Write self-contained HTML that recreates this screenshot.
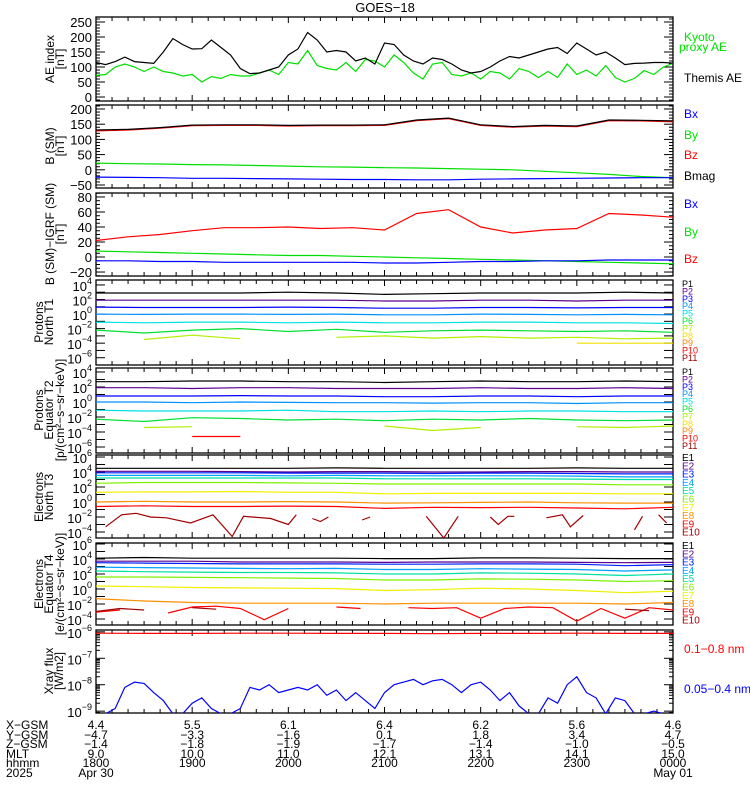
<!DOCTYPE html>
<html><head><meta charset="utf-8"><title>GOES-18</title>
<style>
html,body{margin:0;padding:0;background:#fff;}
svg{display:block;font-family:"Liberation Sans",sans-serif;}
</style></head>
<body>
<svg id="chart" xmlns="http://www.w3.org/2000/svg" width="750" height="800" viewBox="0 0 750 800">
<rect x="0" y="0" width="750" height="800" fill="#fff"/>
<text x="385" y="12" font-size="13" text-anchor="middle">GOES−18</text>
</svg>
<script>
// ===== DATA =====
const hourLabels = ["1800","1900","2000","2100","2200","2300","0000"];
const xgsm = ["4.4","5.5","6.1","6.4","6.2","5.6","4.6"];
const ygsm = ["−4.7","−3.3","−1.6","0.1","1.8","3.4","4.7"];
const zgsm = ["−1.4","−1.8","−1.9","−1.7","−1.4","−1.0","−0.5"];
const mlt = ["9.0","10.0","11.0","12.1","13.1","14.1","15.0"];
// AE index, every 6 minutes from 1800
const themisAE = [115,108,118,133,118,115,112,150,195,175,160,161,190,165,140,95,78,80,90,100,140,160,215,190,150,155,150,120,130,110,180,175,140,120,110,130,125,110,90,80,85,100,120,135,130,140,150,160,165,145,180,160,140,150,130,108,112,113,115,115,113];
const kyotoAE = [72,75,100,110,100,85,100,85,80,70,75,50,68,62,75,70,70,80,90,75,115,110,155,105,95,90,115,85,125,120,100,140,115,80,60,110,115,75,70,80,60,85,80,60,95,85,65,85,65,110,75,90,70,105,65,50,62,88,75,100,112];
// B (SM), every 20 minutes
const bmag = [131,133,139,147,148,148,146,147,147,148,164,170,148,142,146,144,164,163,161];
const bz = [128,131,137,145,146,146,144,145,145,146,162,168,146,140,144,142,162,161,158];
const by = [22,20,19,17,16,14,12,10,9,7,6,4,2,0,-5,-10,-15,-22,-26];
const bx = [-24,-25,-26,-28,-28,-29,-30,-31,-32,-32,-33,-33,-31,-30,-29,-28,-27,-26,-26];
// B - IGRF, every 20 minutes
const dbz = [22,27,30,35,39,39,40,38,39,36,58,63,40,32,36,38,58,56,53];
const dby = [8,7,6,5,4,3,2,2,1,0,-1,-2,-3,-4,-5,-6,-7,-8,-9];
const dbx = [-5,-5,-6,-6,-7,-7,-7,-7,-7,-8,-8,-7,-6,-6,-5,-5,-4,-4,-4];
// Protons North T1, log10 flux every 30 min
const pN1 = [2.9,2.9,2.9,2.9,3.0,2.9,2.7,2.8,2.9,2.9,2.9,3.0,2.9];
const pN2 = [1.9,1.9,1.9,1.9,1.9,1.9,1.8,1.8,1.9,1.9,1.8,1.9,1.9];
const pN3 = [0.95,0.9,0.9,0.9,0.95,0.9,0.8,0.8,0.9,0.9,0.85,0.9,0.9];
const pN4 = [0.0,-0.05,0.0,0.0,-0.05,0.0,-0.1,-0.1,0.0,-0.05,-0.1,-0.05,-0.1];
const pN5 = [-1.1,-1.2,-1.1,-1.1,-1.2,-1.1,-1.2,-1.2,-1.1,-1.1,-1.2,-1.2,-1.3];
const pN6 = [-2.2,-2.6,-2.2,-2.0,-2.4,-2.1,-2.5,-2.3,-2.2,-2.3,-2.4,-2.3,-2.5];
const pN7 = [null,-3.5,-2.9,-3.4,null,-3.2,-3.0,-3.3,-3.1,-3.3,-3.2,-3.4,-3.3];
const pN8 = [null,null,-4.0,null,null,null,null,-4.1,null,null,-4.0,-4.0,-4.0];
// Protons Equator T2
const pE1 = [2.7,2.7,2.8,2.8,2.7,2.7,2.6,2.7,2.8,2.7,2.7,2.8,2.7];
const pE2 = [1.9,1.9,1.8,1.9,1.9,1.8,1.8,1.8,1.9,1.8,1.8,1.9,1.8];
const pE3 = [0.8,0.8,0.8,0.85,0.8,0.8,0.7,0.7,0.8,0.8,0.7,0.8,0.8];
const pE4 = [0.0,0.0,-0.1,0.0,-0.05,-0.1,-0.1,-0.15,-0.1,-0.1,-0.2,-0.1,-0.1];
const pE5 = [-1.1,-1.2,-1.2,-1.2,-1.1,-1.3,-1.3,-1.2,-1.3,-1.2,-1.2,-1.3,-1.3];
const pE6 = [-2.3,-2.6,-2.1,-2.2,-2.4,-2.3,-2.5,-2.3,-2.4,-2.2,-2.4,-2.5,-2.4];
const pE7 = [null,-3.4,-3.3,null,-3.5,null,-3.2,-3.8,-3.4,null,-3.3,-3.4,-3.2];
const pE8 = [null,null,null,null,-4.3,null,null,null,null,-4.2,null,null,null];
const pE10 = [null,null,-4.6,-4.6,null,null,null,null,null,null,null,null,null];
// Electrons North T3
const eN1 = [4.5,4.5,4.5,4.5,4.5,4.55,4.5,4.5,4.5,4.5,4.55,4.5,4.5];
const eN2 = [4.1,4.1,4.1,4.05,4.0,4.05,4.05,4.0,4.0,4.05,4.05,4.0,4.0];
const eN3 = [3.9,3.9,3.9,3.9,3.85,3.85,3.85,3.8,3.85,3.85,3.8,3.75,3.75];
const eN4 = [3.55,3.55,3.55,3.55,3.5,3.55,3.5,3.5,3.5,3.5,3.45,3.35,3.35];
const eN5 = [3.2,3.2,3.2,3.2,3.2,3.2,3.1,3.1,3.1,3.1,3.05,3.0,3.0];
const eN6 = [2.5,2.6,2.6,2.6,2.55,2.5,2.4,2.4,2.4,2.4,2.4,2.3,2.3];
const eN7 = [1.3,1.35,1.35,1.4,1.3,1.3,1.1,1.15,1.15,1.15,1.15,1.1,1.1];
const eN8 = [0.0,0.1,0.0,0.0,0.05,0.0,-0.15,-0.1,-0.05,0.0,-0.1,-0.15,-0.15];
const eN9 = [-0.6,-0.5,-0.6,-0.6,-0.55,-0.6,-0.85,-0.7,-0.75,-0.7,-0.8,-0.9,-0.7];
const eN10Times = [6,16,25,34,44,59,73,85,92,109,120,125,null,135,140,145,null,166,171,null,206,217,226,null,246,251,257,261,null,281,291,296,304,null,336,341,null,351,356];
const eN10 = [-3.3,-1.7,-1.5,-2.0,-2.1,-2.8,-1.7,-4.6,-1.9,-2.2,-3.0,-1.7,null,-2.2,-2.6,-2.0,null,-2.4,-2.0,null,-1.9,-4.8,-1.9,null,-2.0,-3.0,-1.9,-1.9,null,-2.1,-1.7,-3.3,-1.8,null,-3.7,-1.9,null,-1.7,-2.8];
// Electrons Equator T4
const eE1 = [4.1,4.2,4.1,4.1,4.1,4.1,4.05,4.05,4.15,4.15,4.1,4.05,4.05];
const eE2 = [3.7,3.7,3.7,3.6,3.6,3.6,3.55,3.6,3.6,3.6,3.55,3.5,3.55];
const eE3 = [3.5,3.45,3.4,3.35,3.35,3.35,3.3,3.3,3.35,3.35,3.3,3.1,3.25];
const eE4 = [2.9,2.85,2.8,2.75,2.7,2.75,2.6,2.6,2.7,2.65,2.6,2.4,2.55];
const eE5 = [2.4,2.3,2.25,2.2,2.2,2.15,2.0,2.0,2.15,2.1,2.0,1.8,2.0];
const eE6 = [1.6,1.6,1.55,1.5,1.45,1.4,1.2,1.2,1.35,1.3,1.2,1.0,1.1];
const eE7 = [0.4,0.3,0.2,0.15,0.1,0.05,-0.2,-0.1,0.1,0.0,-0.2,-0.5,-0.3];
const eE8 = [-1.3,-1.6,-1.8,-1.9,-1.9,-1.9,-2.0,-1.9,-1.9,-1.9,-1.9,-2.0,-1.8];
const eE9 = [-3.1,-2.8,null,-3.2,-2.4,-2.3,-2.6,-4.1,-2.6,null,-2.4,-2.6,null,-2.5,-2.6,-2.5,-3.9,-2.6,-2.4,-2.5,-4.3,-2.6,-3.9,-2.5,-2.8];
const eE10 = [-3.0,-2.6,-2.8,null,-2.5,-2.7,null,null,null,null,null,null,null,null,-2.6,null,null,-2.5,null,null,null,null,-2.7,-2.9,null];
// X-ray flux, log10 W/m2
const xrLong = [-6.05,-6.06,-6.06,-6.05,-6.05,-6.06,-6.06,-6.07,-6.06,-6.06,-6.05,-6.06,-6.06];
const xrShort = [-9.1,-9.1,-8.9,-8.1,-7.9,-7.95,-8.3,-8.6,-9.1,-9.1,-8.7,-8.5,-8.9,-9.1,-9.1,-8.9,-8.1,-8.2,-8.0,-8.3,-8.2,-8.1,-8.2,-8.0,-8.4,-8.2,-8.6,-8.3,-8.6,-8.9,-8.3,-8.0,-7.9,-7.8,-8.0,-7.85,-7.8,-8.0,-8.3,-8.0,-7.9,-8.2,-8.6,-8.3,-8.8,-9.1,-9.1,-8.5,-8.7,-8.0,-7.7,-8.3,-8.5,-9.1,-8.5,-8.6,-9.1,-9.1,-9.0,-9.1,-9.1];

// ===== LAYOUT =====
const NS = "http://www.w3.org/2000/svg";
const svg = document.getElementById('chart');
const X0 = 96, X1 = 673;
function xScale(m){ return X0 + (m/360)*(X1-X0); }
const panels = [
 {top:17, bot:101, min:-13.3, max:266.7, log:false, major:[0,50,100,150,200,250], minorStep:10, name:'ae-panel'},
 {top:105, bot:188, min:-59.9, max:213.2, log:false, major:[-50,0,50,100,150,200], minorStep:10, name:'bsm-panel'},
 {top:193, bot:276, min:-25.3, max:85.3, log:false, major:[-20,0,20,40,60,80], minorStep:5, name:'bigrf-panel'},
 {top:280, bot:365, min:-7.0, max:4.68, log:true, labels:[4,2,0,-2,-4,-6], name:'protons-north-panel'},
 {top:368, bot:453, min:-6.8, max:4.53, log:true, labels:[4,2,0,-2,-4,-6], name:'protons-equator-panel'},
 {top:455, bot:538, min:-4.8, max:6.27, log:true, labels:[6,4,2,0,-2,-4], name:'electrons-north-panel'},
 {top:543, bot:625, min:-4.8, max:6.13, log:true, labels:[6,4,2,0,-2,-4], name:'electrons-equator-panel'},
 {top:630, bot:713, min:-9.07, max:-5.93, log:true, labels:[-6,-7,-8,-9], minorLog:true, name:'xray-panel'}
];
function yScale(p,v){ return p.top + (p.max - v)/(p.max - p.min)*(p.bot - p.top); }
function mk(tag, attrs){ const e=document.createElementNS(NS,tag); for(const k in attrs) e.setAttribute(k, attrs[k]); return e; }
function line(x1,y1,x2,y2,col,w){ return mk('line',{x1:x1,y1:y1,x2:x2,y2:y2,stroke:col||'#000','stroke-width':w||1}); }

panels.forEach((p,pi)=>{
  const g = mk('g',{});
  
  
  svg.appendChild(g);
  const cp = mk('clipPath',{id:'clip'+pi});
  cp.appendChild(mk('rect',{x:X0,y:p.top,width:X1-X0,height:p.bot-p.top}));
  svg.appendChild(cp);
  p.g = g;
  const fr = mk('rect',{x:X0,y:p.top,width:X1-X0,height:p.bot-p.top,fill:'none',stroke:'#000','stroke-width':1.3});
  
  
  g.appendChild(fr);
  for(let m=10;m<360;m+=10){
    const x=xScale(m); const len=(m%60===0)?6:4;
    g.appendChild(line(x,p.bot,x,p.bot-len));
    g.appendChild(line(x,p.top,x,p.top+len));
  }
  const ticks=[];
  if(!p.log){
    for(let v=Math.ceil(p.min/p.minorStep)*p.minorStep; v<=p.max; v+=p.minorStep){
      ticks.push([v, p.major.indexOf(v)>=0]);
    }
  } else if(p.minorLog){
    for(let d=-10; d<=-5; d++){
      for(let k=1;k<10;k++){ const v=d+Math.log10(k); if(v>=p.min&&v<=p.max) ticks.push([v,k===1]); }
    }
  } else {
    for(let d=Math.ceil(p.min); d<=Math.floor(p.max); d++) ticks.push([d,true]);
  }
  ticks.forEach(([v,maj])=>{
    const y=yScale(p,v); const len=maj?9:4;
    g.appendChild(line(X0,y,X0+len,y));
    g.appendChild(line(X1,y,X1-len,y));
  });
  if(!p.log){
    p.major.forEach(v=>{
      const t = mk('text',{x:X0-4,y:yScale(p,v)+5,'font-size':13,'text-anchor':'end'});
      t.textContent = (v<0?'−':'')+Math.abs(v);
      
      
      g.appendChild(t);
    });
  } else {
    p.labels.forEach(d=>{
      const y=yScale(p,d);
      const t = mk('text',{x:X0-4,y:y+6,'font-size':13,'text-anchor':'end'});
      const base = document.createElementNS(NS,'tspan'); base.textContent='10';
      const sup = mk('tspan',{dy:-7,'font-size':9}); sup.textContent=(d<0?'−':'')+Math.abs(d);
      t.appendChild(base); t.appendChild(sup);
      
      
      g.appendChild(t);
    });
  }
});

function series(pi, vals, col, name, times){
  const p = panels[pi];
  const n = vals.length;
  let d=''; let pen=false;
  for(let i=0;i<n;i++){
    const v=vals[i];
    const m = times ? times[i] : i*360/(n-1);
    if(v===null || m===null){ pen=false; continue; }
    const x=xScale(m), y=yScale(p,v);
    d += (pen?'L':'M')+x.toFixed(1)+' '+y.toFixed(1)+' ';
    pen=true;
  }
  const path = mk('path',{d:d,fill:'none',stroke:col,'stroke-width':1.2,'clip-path':'url(#clip'+pi+')'});
  
  
  p.g.appendChild(path);
}

const C = {P1:'#000',P2:'#5a0090',P3:'#0000ff',P4:'#0090ff',P5:'#00e0e0',P6:'#00e030',P7:'#b0f000',P8:'#f0e000',P9:'#ff8000',P10:'#ff0000',P11:'#a00000'};
const EC = {E1:'#000',E2:'#5a0090',E3:'#0020ff',E4:'#00a0ff',E5:'#00e0a0',E6:'#80f000',E7:'#f0f000',E8:'#ff9000',E9:'#ff0000',E10:'#a00000'};

series(0, kyotoAE, '#00e000', 'kyoto-ae-line');
series(0, themisAE, '#000', 'themis-ae-line');
series(1, by, '#00e000', 'by-line');
series(1, bx, '#0000ff', 'bx-line');
series(1, bz, '#ff0000', 'bz-line');
series(1, bmag, '#000', 'bmag-line');
series(2, dby, '#00e000', 'dby-line');
series(2, dbx, '#0000ff', 'dbx-line');
series(2, dbz, '#ff0000', 'dbz-line');
[[pN1,'P1'],[pN2,'P2'],[pN3,'P3'],[pN4,'P4'],[pN5,'P5'],[pN6,'P6'],[pN7,'P7'],[pN8,'P8']].forEach(([a,k])=>series(3,a,C[k],'proton-north-'+k.toLowerCase()));
[[pE1,'P1'],[pE2,'P2'],[pE3,'P3'],[pE4,'P4'],[pE5,'P5'],[pE6,'P6'],[pE7,'P7'],[pE8,'P8'],[pE10,'P10']].forEach(([a,k])=>series(4,a,C[k],'proton-equator-'+k.toLowerCase()));
[[eN1,'E1'],[eN2,'E2'],[eN3,'E3'],[eN4,'E4'],[eN5,'E5'],[eN6,'E6'],[eN7,'E7'],[eN8,'E8'],[eN9,'E9']].forEach(([a,k])=>series(5,a,EC[k],'electron-north-'+k.toLowerCase()));
series(5, eN10, EC.E10, 'electron-north-e10', eN10Times);
[[eE1,'E1'],[eE2,'E2'],[eE3,'E3'],[eE4,'E4'],[eE5,'E5'],[eE6,'E6'],[eE7,'E7'],[eE8,'E8'],[eE9,'E9'],[eE10,'E10']].forEach(([a,k])=>series(6,a,EC[k],'electron-equator-'+k.toLowerCase()));
series(7, xrLong, '#ff0000', 'xray-long-line');
series(7, xrShort, '#0000ff', 'xray-short-line');

function ytitle(lines, xs, cy, name){
  lines.forEach((s,i)=>{
    const t = mk('text',{x:xs[i],y:cy,'font-size':12,'text-anchor':'middle',transform:'rotate(-90 '+xs[i]+' '+cy+')'});
    t.textContent=s;
    
    
    svg.appendChild(t);
  });
}
ytitle(['AE index','[nT]'],[54,64],59,'ae-axis-title');
ytitle(['B (SM)','[nT]'],[54,64],146,'bsm-axis-title');
ytitle(['B (SM)−IGRF (SM)','[nT]'],[54,64],234,'bigrf-axis-title');
ytitle(['Protons','North T1'],[43,53],322,'protons-north-axis-title');
ytitle(['Protons','Equator T2','[p/(cm²−s−sr−keV)]'],[43,53,64],410,'protons-equator-axis-title');
ytitle(['Electrons','North T3'],[43,53],497,'electrons-north-axis-title');
ytitle(['Electrons','Equator T4','[e/(cm²−s−sr−keV)]'],[43,53,64],584,'electrons-equator-axis-title');
ytitle(['Xray flux','[W/m2]'],[53,63],671,'xray-axis-title');

function rlabel(txt,x,y,col,size,name){
  const t = mk('text',{x:x,y:y,'font-size':size,fill:col});
  t.textContent=txt;
  
  
  svg.appendChild(t);
}
rlabel('Kyoto',684,41,'#00e000',12,'legend-kyoto');
rlabel('proxy AE',679,51,'#00e000',12,'legend-kyoto');
rlabel('Themis AE',684,82,'#000',12,'legend-themis');
rlabel('Bx',684,118,'#0000ff',12,'legend-bx');
rlabel('By',684,139,'#00e000',12,'legend-by');
rlabel('Bz',684,159,'#ff0000',12,'legend-bz');
rlabel('Bmag',684,180,'#000',12,'legend-bmag');
rlabel('Bx',684,208,'#0000ff',12,'legend-dbx');
rlabel('By',684,236,'#00e000',12,'legend-dby');
rlabel('Bz',684,263,'#ff0000',12,'legend-dbz');
const pk=['P1','P2','P3','P4','P5','P6','P7','P8','P9','P10','P11'];
pk.forEach((k,i)=>{ rlabel(k,682,287+i*7.4,C[k],9,'legend-north-'+k.toLowerCase()); rlabel(k,682,375+i*7.4,C[k],9,'legend-equator-'+k.toLowerCase()); });
const ek=['E1','E2','E3','E4','E5','E6','E7','E8','E9','E10'];
ek.forEach((k,i)=>{ rlabel(k,682,461+i*8.3,EC[k],10,'legend-north-'+k.toLowerCase()); rlabel(k,682,549+i*8.3,EC[k],10,'legend-equator-'+k.toLowerCase()); });
rlabel('0.1−0.8 nm',684,653,'#ff0000',12,'legend-xray-long');
rlabel('0.05−0.4 nm',684,693,'#0000ff',12,'legend-xray-short');

const rowY=[729,739,748,758,767,777];
const rowNames=['X−GSM','Y−GSM','Z−GSM','MLT','hhmm','2025'];
rowNames.forEach((s,i)=>rlabel(s,6,rowY[i],'#000',12,'ephemeris-row-label'));
const rows=[xgsm,ygsm,zgsm,mlt,hourLabels];
rows.forEach((arr,ri)=>{
  arr.forEach((s,i)=>{
    const t = mk('text',{x:xScale(i*60),y:rowY[ri],'font-size':12,'text-anchor':'middle'});
    t.textContent=s;
    
    
    svg.appendChild(t);
  });
});
[['Apr 30',0],['May 01',360]].forEach(([s,m])=>{
  const t = mk('text',{x:xScale(m),y:rowY[5],'font-size':12,'text-anchor':'middle'});
  t.textContent=s;
  
  
  svg.appendChild(t);
});
</script>
</body></html>
